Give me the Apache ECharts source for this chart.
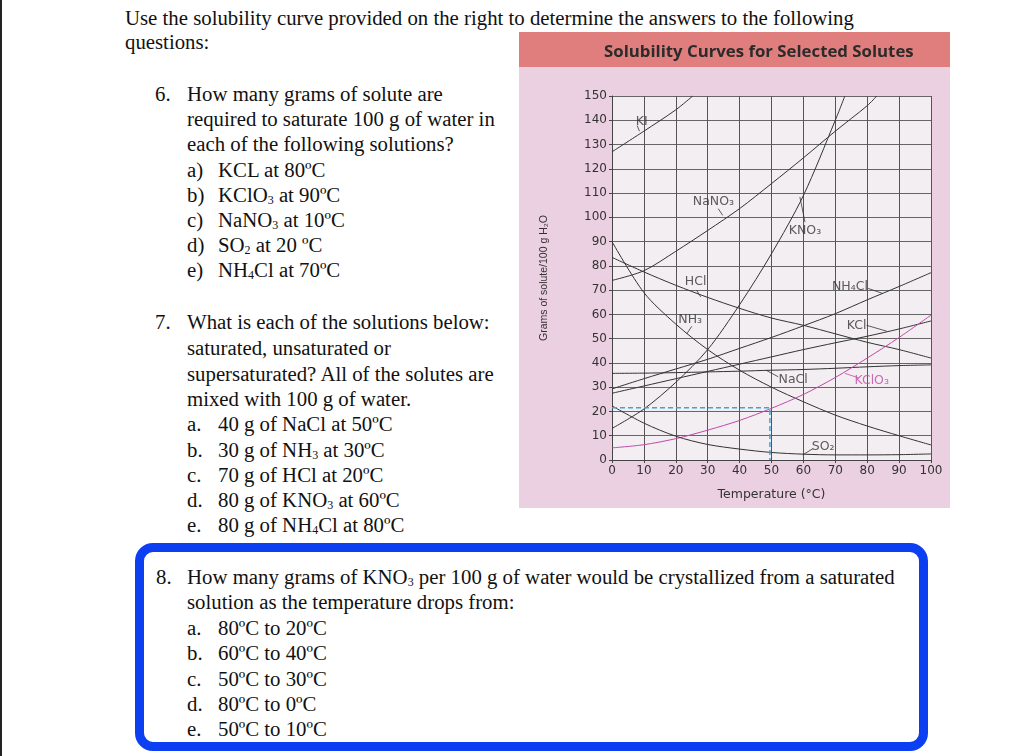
<!DOCTYPE html>
<html>
<head>
<meta charset="utf-8">
<script src="https://cdn.jsdelivr.net/npm/echarts@6/dist/echarts.min.js"></script>
<style>
  html, body { margin: 0; padding: 0; background: #fff; }
  #page { position: relative; width: 1024px; height: 756px; overflow: hidden; background: #fff; }
  #bar { position: absolute; left: 0; top: 0; width: 2px; height: 756px; background: #222; }
  .ln { position: absolute; height: 25px; line-height: 25px; white-space: nowrap;
        font-family: "Liberation Serif", "DejaVu Serif", serif; font-size: 20.8px; color: #111; }
  .s { font-size: 12px; vertical-align: -2px; }
  #box { position: absolute; left: 135px; top: 543px; width: 793px; height: 208px; box-sizing: border-box;
         border: 9px solid #0d3ff2; border-radius: 18px; }
  #chart { position: absolute; left: 519px; top: 32px; width: 431px; height: 476px; }
</style>
</head>
<body>
<div id="page">
  <div id="bar"></div>

  <div class="ln" style="left:125px;top:5px">Use the solubility curve provided on the right to determine the answers to the following</div>
  <div class="ln" style="left:125px;top:29px">questions:</div>

  <div class="ln" style="left:155px;top:81px">6.</div>
  <div class="ln" style="left:187px;top:81px">How many grams of solute are</div>
  <div class="ln" style="left:187px;top:106px">required to saturate 100 g of water in</div>
  <div class="ln" style="left:187px;top:131px">each of the following solutions?</div>
  <div class="ln" style="left:187px;top:157px">a)</div><div class="ln" style="left:218px;top:157px">KCL at 80ºC</div>
  <div class="ln" style="left:187px;top:182px">b)</div><div class="ln" style="left:218px;top:182px">KClO<span class="s">3</span> at 90ºC</div>
  <div class="ln" style="left:187px;top:207px">c)</div><div class="ln" style="left:218px;top:207px">NaNO<span class="s">3</span> at 10ºC</div>
  <div class="ln" style="left:187px;top:232px">d)</div><div class="ln" style="left:218px;top:232px">SO<span class="s">2</span> at 20 ºC</div>
  <div class="ln" style="left:187px;top:257px">e)</div><div class="ln" style="left:218px;top:257px">NH<span class="s">4</span>Cl at 70ºC</div>

  <div class="ln" style="left:155px;top:309px">7.</div>
  <div class="ln" style="left:187px;top:309px">What is each of the solutions below:</div>
  <div class="ln" style="left:187px;top:335px">saturated, unsaturated or</div>
  <div class="ln" style="left:187px;top:361px">supersaturated? All of the solutes are</div>
  <div class="ln" style="left:187px;top:386px">mixed with 100 g of water.</div>
  <div class="ln" style="left:187px;top:411px">a.</div><div class="ln" style="left:218px;top:411px">40 g of NaCl at 50ºC</div>
  <div class="ln" style="left:187px;top:437px">b.</div><div class="ln" style="left:218px;top:437px">30 g of NH<span class="s">3</span> at 30ºC</div>
  <div class="ln" style="left:187px;top:462px">c.</div><div class="ln" style="left:218px;top:462px">70 g of HCl at 20ºC</div>
  <div class="ln" style="left:187px;top:487px">d.</div><div class="ln" style="left:218px;top:487px">80 g of KNO<span class="s">3</span> at 60ºC</div>
  <div class="ln" style="left:187px;top:512px">e.</div><div class="ln" style="left:218px;top:512px">80 g of NH<span class="s">4</span>Cl at 80ºC</div>

  <div id="box"></div>
  <div class="ln" style="left:156px;top:564px">8.</div>
  <div class="ln" style="left:187px;top:564px">How many grams of KNO<span class="s">3</span> per 100 g of water would be crystallized from a saturated</div>
  <div class="ln" style="left:187px;top:589px">solution as the temperature drops from:</div>
  <div class="ln" style="left:187px;top:615px">a.</div><div class="ln" style="left:218px;top:615px">80ºC to 20ºC</div>
  <div class="ln" style="left:187px;top:640px">b.</div><div class="ln" style="left:218px;top:640px">60ºC to 40ºC</div>
  <div class="ln" style="left:187px;top:666px">c.</div><div class="ln" style="left:218px;top:666px">50ºC to 30ºC</div>
  <div class="ln" style="left:187px;top:691px">d.</div><div class="ln" style="left:218px;top:691px">80ºC to 0ºC</div>
  <div class="ln" style="left:187px;top:716px">e.</div><div class="ln" style="left:218px;top:716px">50ºC to 10ºC</div>

  <div id="chart"></div>
</div>

<script>
// temperatures (°C) used by most curves
var temps = [0, 10, 20, 30, 40, 50, 60, 70, 80, 90, 100];

// grams of solute per 100 g water
var hclVals   = [83.5, 77.5, 72, 67, 62.5, 58.5, 55.5, 52, 48.5, 45.5, 42];
var nh3Vals   = [90, 69, 56, 45.5, 37, 30, 24, 18.5, 14, 10, 6.2];
var nh4clVals = [29.3, 33.5, 37.5, 41.5, 46, 50.5, 55.3, 60.3, 66, 71.5, 77.2];
var kclVals   = [27.5, 30.5, 33.5, 36.5, 39.5, 42.5, 45.5, 48.3, 51, 54, 57.3];
var naclVals  = [35.7, 35.8, 36, 36.3, 36.6, 37, 37.3, 37.8, 38.4, 38.9, 39.2];
var kclo3Vals = [5, 6.3, 8.8, 12.3, 16.3, 21.3, 27, 34, 42, 50.5, 59.7];
var so2Vals   = [22.3, 15.2, 9.8, 6.4, 4.5, 3.1, 2.4, 2.1, 2.1, 2.2, 2.5];

// curves that leave the top of the chart
var kiTemps    = [0, 10, 20, 25.3];
var kiVals     = [127, 135.5, 144.3, 150];
var nano3Temps = [0, 10, 20, 30, 40, 50, 60, 70, 80, 83];
var nano3Vals  = [74, 78, 86, 94.6, 103.6, 113.9, 124.5, 135.5, 146, 150];
var kno3Temps  = [0, 10, 20, 30, 40, 50, 60, 70, 73];
var kno3Vals   = [13, 21, 32, 45.5, 64, 85, 109, 140, 150];

// worked example (dashed): KClO3 at 50 °C
var guideTemps = [0, 49.5, 49.5];
var guideVals  = [21.5, 21.5, 0];

// curve labels and their leader lines (data coords)
var labelNames = ['KI', 'NaNO₃', 'KNO₃', 'HCl', 'NH₃', 'NH₄Cl', 'KCl', 'NaCl', 'KClO₃', 'SO₂'];
var labelPos = [[9.3, 139.5], [31.8, 106.3], [60.5, 94.6], [26.2, 73.4], [24.5, 57.9],
                [74.6, 71.3], [76.7, 55.3], [56.8, 32.9], [81.4, 32.6], [66.2, 5.5]];
var leaderFrom = [[7.9, 137.8], [33.3, 103.6], [60.5, 98], [26.5, 70], [25, 55.1],
                  [80.3, 70.7], [79.8, 55.5], [52.1, 34.3], [77.2, 33.9], [63.1, 4.8]];
var leaderTo = [[8.6, 135.5], [34.7, 100.8], [58.9, 108.4], [27.8, 67.2], [23.4, 51.9],
                [84.9, 68.6], [86.1, 53.1], [48.3, 37], [73, 35.7], [59.8, 2.1]];

var ink = '#333';
var magenta = '#c04aa8';

function pairs(xs, ys) {
    var out = [];
    for (var i = 0; i < xs.length; i++) out.push([xs[i], ys[i]]);
    return out;
}

function curve(name, xs, ys, color) {
    return {
        name: name,
        type: 'line',
        data: pairs(xs, ys),
        smooth: 0.3,
        showSymbol: false,
        symbol: 'none',
        silent: true,
        lineStyle: { color: color || ink, width: 1 },
        z: 3
    };
}

var myChart = echarts.init(document.getElementById('chart'));

var labelData = [];
var leaderData = [];
for (var i = 0; i < labelNames.length; i++) {
    var col = labelNames[i] === 'KClO₃' ? magenta : ink;
    labelData.push({ name: labelNames[i], value: labelPos[i], label: { color: col } });
    leaderData.push({ coords: [leaderFrom[i], leaderTo[i]], lineStyle: { color: col } });
}

var option = {
    animation: false,
    backgroundColor: '#ebd0e1',
    title: {
        text: 'Solubility Curves for Selected Solutes',
        left: 80,
        top: 7,
        textStyle: { fontFamily: 'Open Sans', fontWeight: 'bold', fontSize: 16.8, color: '#2b2b2b' }
    },
    graphic: [{
        type: 'rect',
        z: -10,
        shape: { x: 0, y: 0, width: 431, height: 35 },
        style: { fill: '#e07e7e' }
    }],
    grid: {
        left: 93, top: 64, right: 19, bottom: 48,
        show: true, backgroundColor: '#f3eef1', borderWidth: 0
    },
    xAxis: {
        type: 'value',
        min: 0, max: 100, interval: 10,
        name: 'Temperature (°C)',
        nameLocation: 'middle',
        nameGap: 28,
        nameTextStyle: { fontFamily: 'DejaVu Sans', fontSize: 12.5, color: '#333' },
        axisLine: { lineStyle: { color: '#444', width: 1 } },
        axisTick: { show: true, length: 3, lineStyle: { color: '#444' } },
        axisLabel: { fontFamily: 'DejaVu Sans', fontSize: 12, color: '#333', margin: 5 },
        splitLine: { show: true, lineStyle: { color: '#555', width: 1 } }
    },
    yAxis: {
        type: 'value',
        min: 0, max: 150, interval: 10,
        name: 'Grams of solute/100 g H₂O',
        nameLocation: 'middle',
        nameGap: 62,
        nameTextStyle: { fontFamily: 'Liberation Sans Narrow, Liberation Sans', fontSize: 10.5, color: '#333' },
        axisLine: { show: true, lineStyle: { color: '#444', width: 1 } },
        axisTick: { show: true, length: 3, lineStyle: { color: '#444' } },
        axisLabel: { fontFamily: 'DejaVu Sans', fontSize: 12, color: '#333', margin: 5 },
        splitLine: { show: true, lineStyle: { color: '#666', width: 1 } }
    },
    series: [
        curve('KI', kiTemps, kiVals),
        curve('NaNO3', nano3Temps, nano3Vals),
        curve('KNO3', kno3Temps, kno3Vals),
        curve('HCl', temps, hclVals),
        curve('NH3', temps, nh3Vals),
        curve('NH4Cl', temps, nh4clVals),
        curve('KCl', temps, kclVals),
        curve('NaCl', temps, naclVals),
        curve('KClO3', temps, kclo3Vals, magenta),
        curve('SO2', temps, so2Vals),
        {
            name: 'guide',
            type: 'line',
            data: pairs(guideTemps, guideVals),
            showSymbol: false,
            symbol: 'none',
            silent: true,
            lineStyle: { color: '#45a2d4', width: 1.5, type: [5, 3] },
            z: 4
        },
        {
            name: 'leaders',
            type: 'lines',
            coordinateSystem: 'cartesian2d',
            silent: true,
            data: leaderData,
            lineStyle: { width: 0.8, opacity: 1 },
            z: 5
        },
        {
            name: 'labels',
            type: 'scatter',
            data: labelData,
            symbolSize: 0.1,
            silent: true,
            itemStyle: { color: 'rgba(0,0,0,0)' },
            label: {
                show: true,
                position: 'inside',
                formatter: '{b}',
                fontFamily: 'DejaVu Sans',
                fontSize: 12.5
            },
            z: 6
        }
    ]
};

myChart.setOption(option);
</script>
</body>
</html>
